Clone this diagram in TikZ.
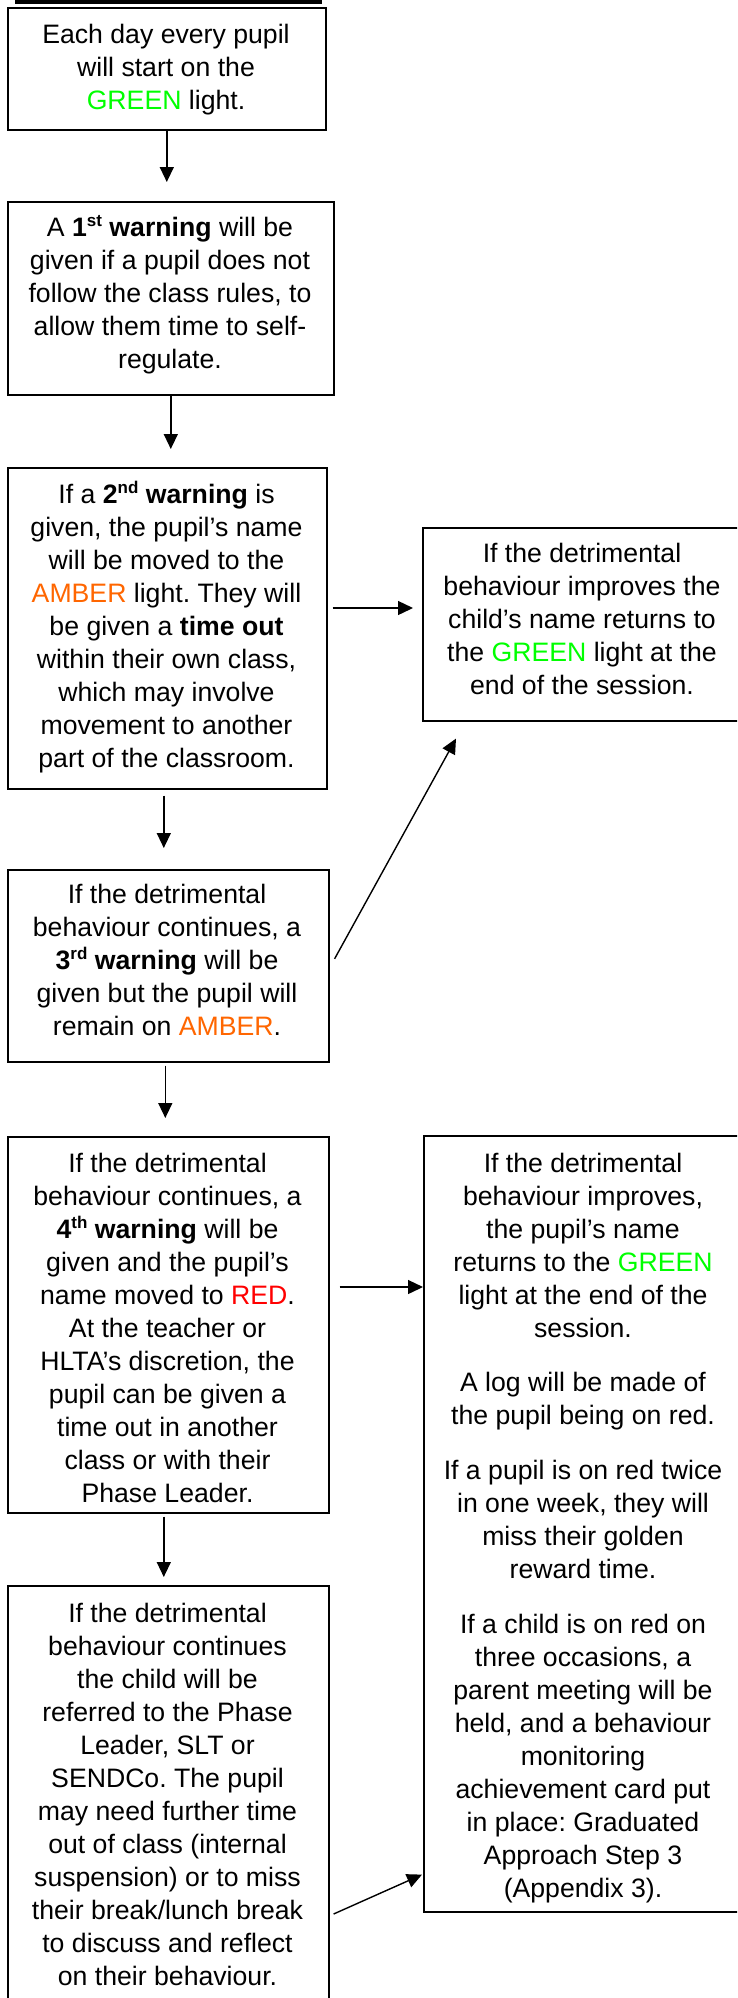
\documentclass[tikz,border=0pt]{standalone}
\usepackage{fontspec}
\setmainfont{Liberation Sans}
\usetikzlibrary{arrows.meta}
\definecolor{gr}{RGB}{0,255,0}
\definecolor{amb}{RGB}{255,102,0}
\definecolor{rd}{RGB}{255,0,0}
\newcommand\supx[1]{\raisebox{10pt}{\fontsize{17pt}{17pt}\selectfont #1}}
\newcommand\fs{\rule{0pt}{26pt}}
\frenchspacing
\begin{document}
\begin{tikzpicture}[x=1pt,y=-1pt,
  box/.style={draw=black, line width=1.6pt, rectangle, inner sep=0pt, anchor=north west},
  txt/.style={anchor=north, inner sep=0pt, align=center, font=\fontsize{26.65pt}{33pt}\selectfont\frenchspacing},
  arr/.style={line width=1.4pt, -{Triangle[length=15pt,width=14pt]}}]
\clip (0,0) rectangle (737,1998);
\fill[white] (0,0) rectangle (737,1998);
\draw[line width=4pt] (15,2) -- (322,2);

% boxes
\node[box, minimum width=318pt, minimum height=122pt] (b1) at (7,7) {};
\node[box, minimum width=326pt, minimum height=193pt] (b2) at (7,201) {};
\node[box, minimum width=319pt, minimum height=321pt] (b3) at (7,467) {};
\node[box, minimum width=320pt, minimum height=193pt] (r1) at (422,527) {};
\node[box, minimum width=321pt, minimum height=192pt] (b4) at (7,869) {};
\node[box, minimum width=321pt, minimum height=376pt] (b5) at (7,1136) {};
\node[box, minimum width=320pt, minimum height=776pt] (r2) at (423,1135) {};
\node[box, minimum width=321pt, minimum height=425pt] (b6) at (7,1585) {};

% texts
\node[txt] (t1) at (166,17) {\fs Each day every pupil\\will start on the\\\textcolor{gr}{GREEN} light.};
\node[txt] (t2) at (170,210) {\fs A \textbf{1\supx{st} warning} will be\\given if a pupil does not\\follow the class rules, to\\allow them time to self-\\regulate.};
\node[txt] (t3) at (166.5,477) {\fs If a \textbf{2\supx{nd} warning} is\\given, the pupil’s name\\will be moved to the\\\textcolor{amb}{AMBER} light. They will\\be given a \textbf{time out}\\within their own class,\\which may involve\\movement to another\\part of the classroom.};
\node[txt] (tr1) at (582,536) {\fs If the detrimental\\behaviour improves the\\child’s name returns to\\the \textcolor{gr}{GREEN} light at the\\end of the session.};
\node[txt] (t4) at (167,877) {\fs If the detrimental\\behaviour continues, a\\\textbf{3\supx{rd} warning} will be\\given but the pupil will\\remain on \textcolor{amb}{AMBER}.};
\node[txt] (t5) at (167.5,1146) {\fs If the detrimental\\behaviour continues, a\\\textbf{4\supx{th} warning} will be\\given and the pupil’s\\name moved to \textcolor{rd}{RED}.\\At the teacher or\\HLTA’s discretion, the\\pupil can be given a\\time out in another\\class or with their\\Phase Leader.};
\node[txt] (tr2) at (583,1146) {\fs If the detrimental\\behaviour improves,\\the pupil’s name\\returns to the \textcolor{gr}{GREEN}\\light at the end of the\\session.\\[21pt]A log will be made of\\the pupil being on red.\\[22pt]If a pupil is on red twice\\in one week, they will\\miss their golden\\reward time.\\[22pt]If a child is on red on\\three occasions, a\\parent meeting will be\\held, and a behaviour\\monitoring\\achievement card put\\in place: Graduated\\Approach Step 3\\(Appendix 3).};
\node[txt] (t6) at (167.5,1596) {\fs If the detrimental\\behaviour continues\\the child will be\\referred to the Phase\\Leader, SLT or\\SENDCo. The pupil\\may need further time\\out of class (internal\\suspension) or to miss\\their break/lunch break\\to discuss and reflect\\on their behaviour.};

% connectors
\coordinate (y3) at (0,608);
\coordinate (y6) at (0,1287);
\draw[arr, shorten >=19pt] (b1.south) -- (b1.south |- b2.north);
\draw[arr, shorten >=18pt] (b2.south) -- (b2.south |- b3.north);
\draw[arr, shorten <=6pt, shorten >=21pt] ([xshift=-3.5pt]b3.south) -- ([xshift=-3.5pt]b3.south |- b4.north);
\draw[arr, shorten <=3pt, shorten >=18pt] ([xshift=-3pt]b4.south) -- ([xshift=-3pt]b4.south |- b5.north);
\draw[arr, shorten <=3pt, shorten >=8pt] ([xshift=-4.5pt]b5.south) -- ([xshift=-4.5pt]b5.south |- b6.north);
\draw[arr, shorten <=5pt, shorten >=9pt] (b3.east |- y3) -- (r1.west |- y3);
\draw[arr, shorten <=10pt] (b5.east |- y6) -- (r2.west |- y6);
\draw[arr] ([shift={(5,-7)}]b4.east) -- ([shift={(34,17)}]r1.south west);
\draw[arr] ([shift={(4,329)}]b6.north east) -- ([shift={(-1,-38)}]r2.south west);
\end{tikzpicture}
\end{document}
